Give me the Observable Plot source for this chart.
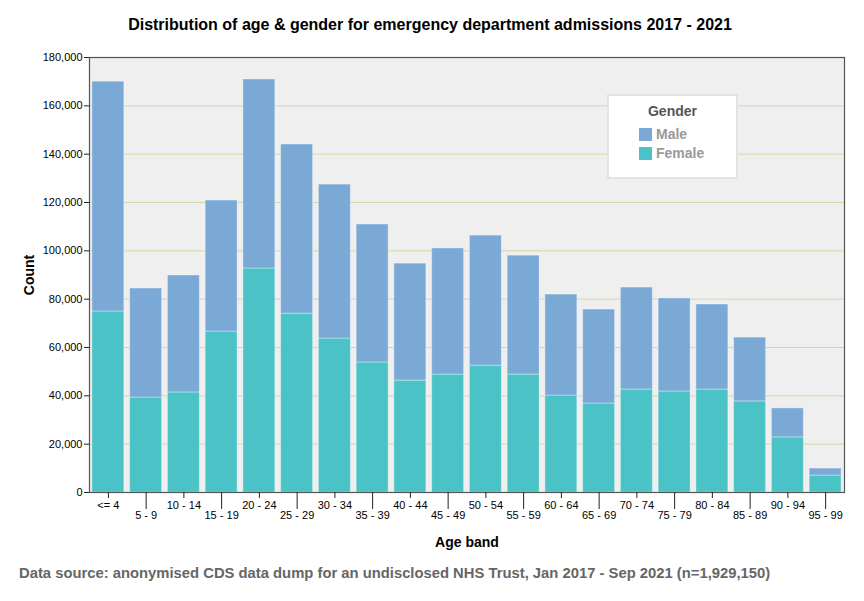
<!DOCTYPE html>
<html>
<head>
<meta charset="utf-8">
<script src="https://cdn.jsdelivr.net/npm/d3@7"></script>
<script src="https://cdn.jsdelivr.net/npm/@observablehq/plot@0.6"></script>
<style>
  body { margin: 0; background: #fff; font-family: "Liberation Sans", Arial, sans-serif; }
  #wrap { position: relative; width: 864px; height: 601px; overflow: hidden; }
  #chart { position: absolute; left: 0; top: 0; }
  .title { position: absolute; left: 0; width: 864px; top: 16px; text-align: center; font-weight: bold; font-size: 16px; color: #000; }
  .title span { display: inline-block; margin-left: -4px; }
  .caption { position: absolute; left: 19px; top: 565px; font-weight: bold; font-size: 14.8px; color: #666; }
  .legend { position: absolute; left: 607px; top: 94px; width: 127px; height: 81px; background: #fff; border: 2px solid #e2e2e2; }
  .legend .lt { position: absolute; left: 0; width: 127px; top: 7px; text-align: center; font-weight: bold; font-size: 14px; color: #555; }
  .legend .item { position: absolute; left: 30px; font-weight: bold; font-size: 14px; color: #999; line-height: 14px; }
  .legend .sw { display: inline-block; width: 13px; height: 13px; vertical-align: -2px; margin-right: 4px; }
</style>
</head>
<body>
<div id="wrap">
  <div class="title"><span>Distribution of age &amp; gender for emergency department admissions 2017 - 2021</span></div>
  <div id="chart"></div>
  <div class="legend">
    <div class="lt">Gender</div>
    <div class="item" style="top:31px"><span class="sw" style="background:#7ba9d6"></span>Male</div>
    <div class="item" style="top:50px"><span class="sw" style="background:#4bc2c5"></span>Female</div>
  </div>
  <div class="caption">Data source: anonymised CDS data dump for an undisclosed NHS Trust, Jan 2017 - Sep 2021 (n=1,929,150)</div>
</div>
<script>
const ageBands = ["<= 4","5 - 9","10 - 14","15 - 19","20 - 24","25 - 29","30 - 34","35 - 39","40 - 44","45 - 49","50 - 54","55 - 59","60 - 64","65 - 69","70 - 74","75 - 79","80 - 84","85 - 89","90 - 94","95 - 99"];
const femaleCounts = [74900, 39300, 41400, 66600, 92700, 74000, 63700, 53800, 46300, 48800, 52500, 48800, 40100, 36800, 42600, 41800, 42600, 37700, 22800, 7000];
const maleCounts   = [95100, 45100, 48400, 54200, 78200, 70000, 63700, 57100, 48400, 52200, 53800, 49200, 41800, 38900, 42200, 38500, 35200, 26400, 12000, 2900];
const genders = ["Male", "Female"];
const genderColors = ["#7ba9d6", "#4bc2c5"];
const yTicks = [0, 20000, 40000, 60000, 80000, 100000, 120000, 140000, 160000, 180000];

const rows = [];
ageBands.forEach((b, i) => {
  rows.push({band: b, gender: "Female", count: femaleCounts[i]});
  rows.push({band: b, gender: "Male", count: maleCounts[i]});
});

const evenTicks = ageBands.filter((_, i) => i % 2 === 0);
const oddTicks = ageBands.filter((_, i) => i % 2 === 1);

const chart = Plot.plot({
  width: 864,
  height: 601,
  marginLeft: 89,
  marginRight: 20,
  marginTop: 57,
  marginBottom: 109,
  style: {fontFamily: "'Liberation Sans', Arial, sans-serif", fontSize: "11px", color: "#000", background: "transparent"},
  x: {domain: ageBands, padding: 0, round: false, label: null},
  y: {domain: [0, 180000], label: null},
  color: {domain: genders, range: genderColors},
  marks: [
    Plot.frame({fill: "#efefef", stroke: null}),
    Plot.gridY(yTicks.slice(1), {stroke: "#d9d5ab", strokeOpacity: 1, strokeWidth: 1}),
    Plot.barY(rows, Plot.stackY({order: null}, {x: "band", y: "count", fill: "gender", insetLeft: 2.9, insetRight: 2.9, stroke: "#ffffff", strokeOpacity: 0.35, strokeWidth: 1})),
    Plot.frame({stroke: "#555", strokeWidth: 1.2}),
    Plot.axisY({ticks: yTicks, tickFormat: d3.format(","), tickSize: 5, tickPadding: 2, stroke: "#222", label: "Count", labelAnchor: "center", labelArrow: "none", labelOffset: 65}),
    Plot.axisX({ticks: evenTicks, tickSize: 6, tickPadding: 3, stroke: "#222", label: null}),
    Plot.axisX({ticks: oddTicks, tickSize: 17, tickPadding: 2, stroke: "#222", label: "Age band", labelAnchor: "center", labelArrow: "none", labelOffset: 54})
  ]
});
d3.select(chart).selectAll("[aria-label='y-axis label'] text, [aria-label='x-axis label'] text")
  .style("font-weight", "bold").style("font-size", "14px");
document.getElementById("chart").appendChild(chart);
</script>
</body>
</html>
